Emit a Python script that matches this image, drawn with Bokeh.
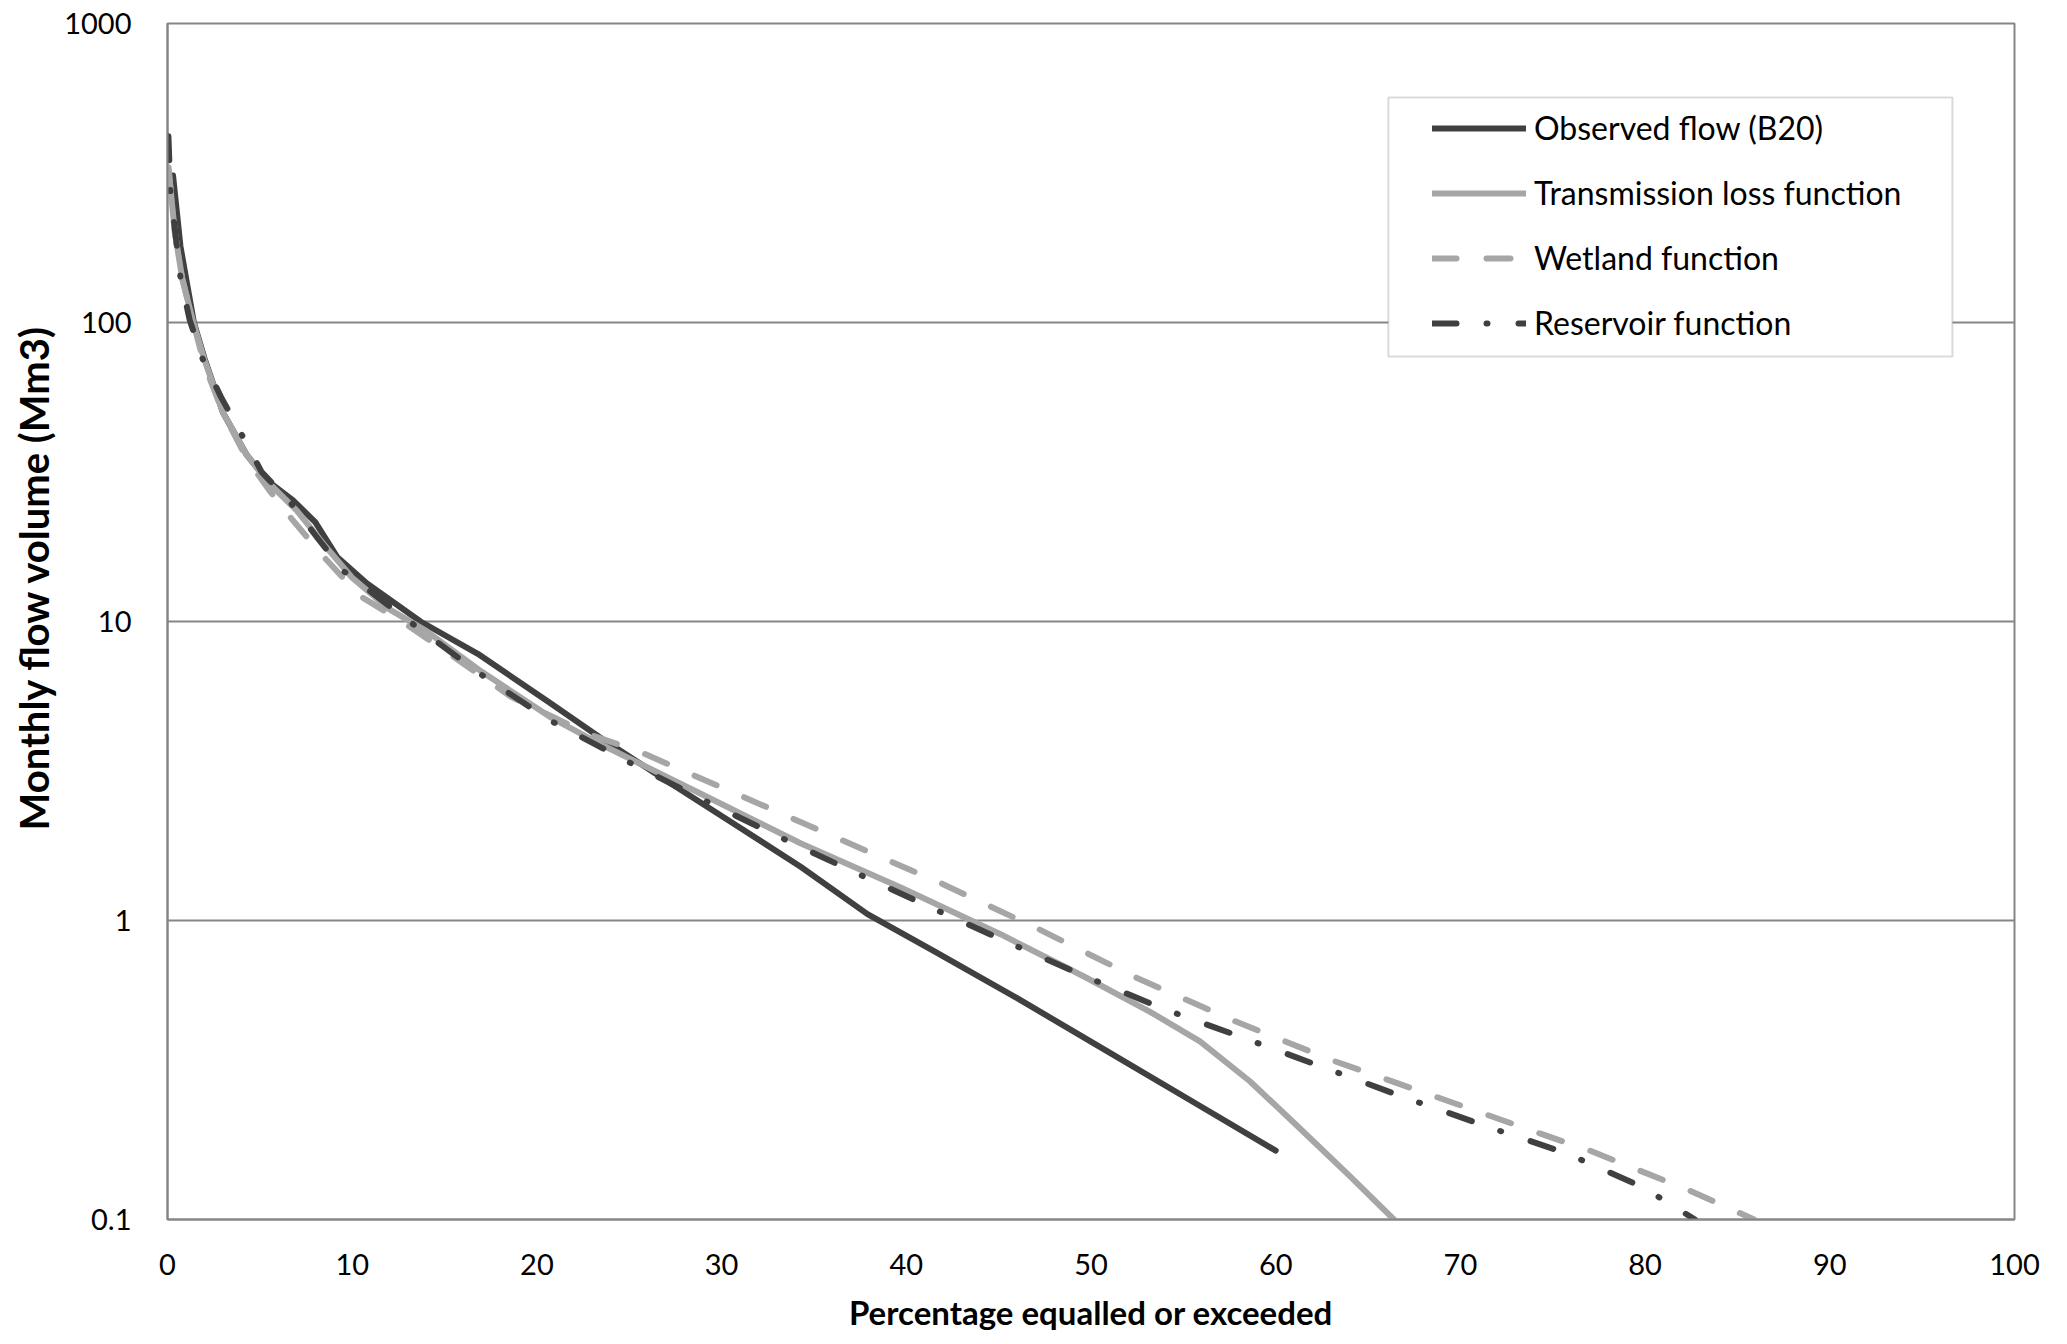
from bokeh.plotting import figure
from bokeh.models import (Range1d, FixedTicker, Legend, LegendItem, BoxAnnotation, Title)
from bokeh.embed import file_html
from bokeh.resources import INLINE

# ---- data ----
obs_x = [0.3, 0.7, 1.43, 2.0, 3.0, 4.3, 5.4, 6.8, 8.0, 9.2, 10.8, 13.7, 16.8, 20.6,
         23.4, 27.0, 30.7, 34.3, 37.9, 41.5, 46.0, 50.5, 55.4, 60.0]
obs_v = [310, 180, 100, 76, 50, 36, 29.6, 25.4, 21.5, 16.4, 13.4, 10, 7.8, 5.4,
         4.10, 2.94, 2.10, 1.51, 1.05, 0.79, 0.55, 0.377, 0.25, 0.17]

tl_x = [0.05, 0.4, 0.8, 1.4, 2.0, 3.0, 4.3, 5.5, 7.0, 8.5, 10.0, 12.0, 14.0, 17.0,
        20.7, 23.4, 28.9, 34.3, 39.7, 45.1, 49.7, 53.2, 55.9, 58.6, 61.3, 64.0, 66.4]
tl_v = [330, 200, 140, 100, 75, 50, 36, 29, 23.5, 18, 14, 11, 9.3, 6.8,
        4.8, 3.90, 2.65, 1.81, 1.29, 0.90, 0.646, 0.495, 0.394, 0.29, 0.202, 0.14, 0.1]

wet_x = [0.05, 0.4, 0.8, 1.4, 2.0, 3.0, 4.3, 5.5, 6.5, 8.4, 10.4, 12.8, 15.0, 18.6,
         22.8, 25.6, 31.0, 36.4, 41.9, 47.1, 52.4, 57.7, 63.1, 68.7, 74.3, 77.0, 82.4, 85.9]
wet_v = [330, 200, 140, 100, 72, 50, 35, 27.5, 22.9, 16.6, 12.2, 9.9, 8.0, 5.6,
         4.2, 3.66, 2.62, 1.87, 1.33, 0.94, 0.646, 0.463, 0.34, 0.257, 0.194, 0.17, 0.125, 0.1]

res_x = [0.05, 0.16, 0.43, 0.7, 1.2, 1.9, 2.9, 4.0, 5.1, 6.7, 8.1, 9.5, 13.2, 16.9,
         20.7, 24.8, 28.9, 33.0, 37.2, 41.4, 45.6, 49.8, 53.9, 58.4, 62.8, 66.9, 71.3,
         75.8, 79.9, 82.7]
res_v = [420, 273, 198, 142, 102, 75.6, 56.3, 42.4, 31.6, 24.8, 19.1, 14.8, 9.9, 6.7,
         4.67, 3.43, 2.55, 1.92, 1.45, 1.10, 0.84, 0.646, 0.507, 0.402, 0.319, 0.257,
         0.206, 0.166, 0.128, 0.1]

series_names = ["Observed flow (B20)", "Transmission loss function",
                "Wetland function", "Reservoir function"]

x_ticks = [0, 10, 20, 30, 40, 50, 60, 70, 80, 90, 100]
y_ticks = [0.1, 1, 10, 100, 1000]
y_tick_labels = ["0.1", "1", "10", "100", "1000"]

x_title = "Percentage equalled or exceeded"
y_title = "Monthly flow volume (Mm3)"

# ---- styling ----
FONT = "Lato"
DARK = "#404040"
LIGHT = "#a6a6a6"
GRID = "#868686"

p = figure(width=2059, height=1336, output_backend="svg", toolbar_location=None,
           x_range=Range1d(0, 100), y_range=Range1d(0.1, 1000), y_axis_type="log",
           min_border_left=167, min_border_right=45, min_border_top=23,
           min_border_bottom=117)
p.background_fill_color = "white"
p.border_fill_color = "white"
p.outline_line_color = GRID
p.outline_line_width = 2

p.xgrid.visible = False
p.ygrid.ticker = FixedTicker(ticks=y_ticks)
p.ygrid.grid_line_color = GRID
p.ygrid.grid_line_width = 2

for ax in (p.xaxis[0], p.yaxis[0]):
    ax.axis_line_color = GRID
    ax.axis_line_width = 2
    ax.major_tick_line_color = None
    ax.minor_tick_line_color = None
    ax.major_label_text_font = FONT
    ax.major_label_text_font_size = "29px"
    ax.major_label_text_color = "black"

p.xaxis.ticker = FixedTicker(ticks=x_ticks)
p.yaxis.ticker = FixedTicker(ticks=y_ticks)
p.yaxis.major_label_overrides = {t: l for t, l in zip(y_ticks, y_tick_labels)}
p.xaxis.major_label_standoff = 28
p.yaxis.major_label_standoff = 30

p.xaxis.axis_label = x_title
p.xaxis.axis_label_text_font = FONT
p.xaxis.axis_label_text_font_style = "bold"
p.xaxis.axis_label_text_font_size = "33px"
p.xaxis.axis_label_text_color = "black"
p.xaxis.axis_label_standoff = 14

# y axis title, placed slightly above the frame centre as in the reference
ytitle = Title(text=y_title, align="left", offset=389,
               text_font=FONT, text_font_style="bold", text_font_size="40px",
               text_color="black", standoff=8)
p.add_layout(ytitle, "left")

common = dict(line_width=6, line_cap="round", line_join="round")
r_obs = p.line(obs_x, obs_v, line_color=DARK, **common)
r_tl = p.line(tl_x, tl_v, line_color=LIGHT, **common)
r_wet = p.line(wet_x, wet_v, line_color=LIGHT, line_dash="24 30", **common)
r_res = p.line(res_x, res_v, line_color=DARK, line_dash="24 30 1 31", **common)

# legend frame
box = BoxAnnotation(left=66.1, right=96.64, top=565.6, bottom=76.95,
                    fill_color="white", fill_alpha=1.0,
                    line_color=GRID, line_width=2, level="annotation")
p.add_layout(box)

legend = Legend(items=[LegendItem(label=n, renderers=[r])
                       for n, r in zip(series_names, [r_obs, r_tl, r_wet, r_res])],
                location=(1250, 862), padding=15, spacing=26,
                glyph_width=94, glyph_height=30, label_height=30, label_standoff=8,
                label_text_font=FONT, label_text_font_size="32px",
                label_text_color="black", label_text_baseline="middle",
                border_line_alpha=0, background_fill_alpha=0)
p.add_layout(legend)

open("out.html", "w").write(file_html(p, INLINE))
